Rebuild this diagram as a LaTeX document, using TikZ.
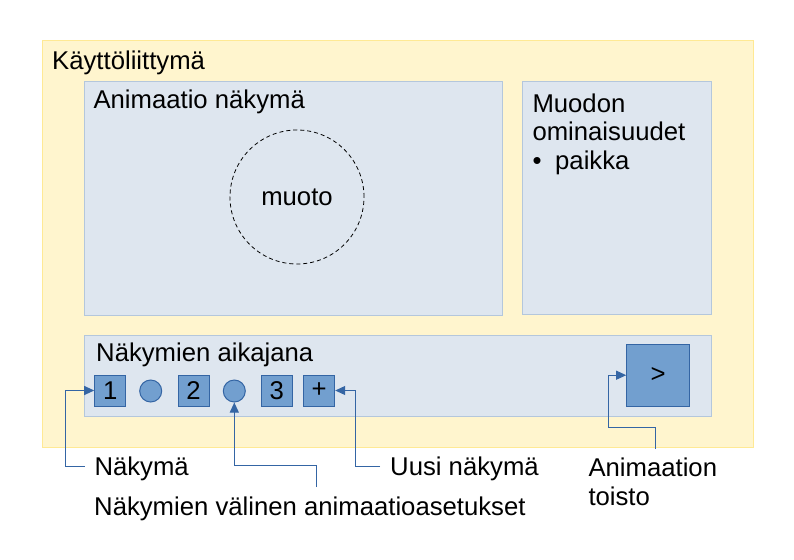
\documentclass[tikz,border=0pt]{standalone}
\usepackage{fontspec}
\setmainfont{Liberation Sans}
\usetikzlibrary{arrows.meta}
\definecolor{uifill}{HTML}{FFF5CE}
\definecolor{uiborder}{HTML}{FFE994}
\definecolor{panelfill}{HTML}{DEE6EF}
\definecolor{panelborder}{HTML}{B4C7DC}
\definecolor{sqfill}{HTML}{729FCF}
\definecolor{sqborder}{HTML}{3465A4}
\begin{document}
\begin{tikzpicture}[x=1pt,y=-1pt,
  txt/.style={anchor=base west,inner sep=0pt,font=\fontsize{25.7}{30}\selectfont},
  box/.style={anchor=north west,inner sep=0pt,line width=1pt},
  panel/.style={box,draw=panelborder,fill=panelfill},
  sq/.style={draw=sqborder,fill=sqfill,line width=1pt,inner sep=0pt,minimum size=31pt,font=\fontsize{25.7}{30}\selectfont},
  dot/.style={circle,draw=sqborder,fill=sqfill,line width=1pt,inner sep=0pt,minimum size=22pt},
  conn/.style={draw=sqborder,line width=1pt,-{Triangle[length=10pt,width=9pt]}}]
\useasboundingbox (0,0) rectangle (794,559);
\fill[white] (0,0) rectangle (794,559);
% outer UI
\node[box,draw=uiborder,fill=uifill,minimum width=711pt,minimum height=406pt] (ui) at (41.5,40.5) {};
\node[panel,minimum width=418pt,minimum height=234pt] (anim) at (83.5,81) {};
\node[panel,minimum width=189pt,minimum height=233pt] (props) at (522,81) {};
\node[panel,minimum width=627pt,minimum height=81pt] (timeline) at (83.5,334.5) {};
% texts
\node[txt] (tui) at (52,69.5) {Käyttöliittymä};
\node[txt] (tanim) at (93.3,109) {Animaatio näkymä};
\node[circle,draw=black,dash pattern=on 4pt off 3pt,line width=0.8pt,minimum size=134pt,inner sep=0pt,font=\fontsize{25.7}{30}\selectfont] (shape) at (297,197) {muoto};
\node[txt] (tp1) at (532.3,112.3) {Muodon};
\node[txt] (tp2) at (532.3,140.7) {ominaisuudet};
\node[txt] (tp3) at (532.3,169) {•};
\node[txt] (tp4) at (555,169) {paikka};
\node[txt] (ttl) at (96,361.7) {Näkymien aikajana};
% timeline items
\node[sq] (s1) at (110.2,390.5) {1};
\node[dot] (c1) at (150.7,391) {};
\node[sq] (s2) at (193.5,390.5) {2};
\node[dot] (c2) at (234.3,391) {};
\node[sq] (s3) at (276.8,390.5) {3};
\node[sq] (plus) at (319.2,390.5) {+};
\node[sq,minimum width=63pt,minimum height=62pt] (play) at (658.2,375.2) {>};
% labels
\node[txt] (lview) at (94.3,475) {Näkymä};
\node[txt] (lanim) at (94,515) {Näkymien välinen animaatioasetukset};
\node[txt] (lnew) at (390,475) {Uusi näkymä};
\node[txt] (lplay1) at (588.3,476.7) {Animaation};
\node[txt] (lplay2) at (588.3,505) {toisto};
% connectors
\coordinate (e1) at (84.5,466.7);
\coordinate (b1) at (65,466.7);
\draw[conn] (e1) -- (b1) |- (s1.west);
\coordinate (e2) at (316.7,487);
\coordinate (b2) at (316.7,465);
\draw[conn] (e2) -- (b2) -| (c2.south);
\coordinate (e3) at (380,466.7);
\coordinate (b3) at (355,466.7);
\draw[conn] (e3) -- (b3) |- (plus.east);
\coordinate (e4) at (655,449);
\coordinate (b4) at (655,427.3);
\coordinate (d4) at (608.3,427.3);
\draw[conn] (e4) -- (b4) -- (d4) |- (play.west);
\end{tikzpicture}
\end{document}
